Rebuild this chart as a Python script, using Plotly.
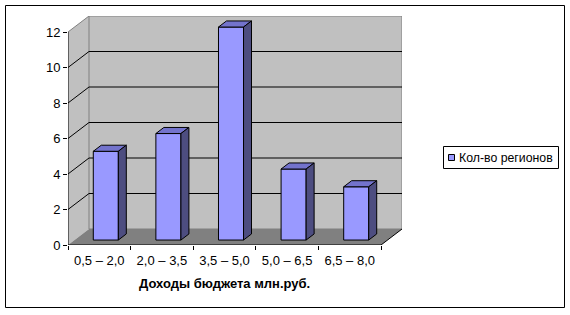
import plotly.graph_objects as go

categories = ["0,5 – 2,0", "2,0 – 3,5", "3,5 – 5,0", "5,0 – 6,5", "6,5 – 8,0"]
values = [5, 6, 12, 4, 3]
series_name = "Кол-во регионов"
x_title = "Доходы бюджета млн.руб."
y_ticks = [0, 2, 4, 6, 8, 10, 12]

# geometry (pixels -> axis units)
PX_X = 62.6   # px per category
PX_Y = 17.75  # px per value unit
DX = 21 / PX_X   # depth offset in category units
DY = 16 / PX_Y   # depth offset in value units
YMAX = 12
F0, F1 = 0.31, 0.69  # bar depth fractions
HALF = 0.2

L, B = 68, 70
W, H = 570, 315
plot_w = (5 + DX) * PX_X
plot_h = (YMAX + DY) * PX_Y
T = H - B - plot_h
R = W - L - plot_w

FRONT = "#9999FF"
TOP = "#7373CC"
SIDE = "#4D4D80"
WALL = "#C0C0C0"
FLOOR = "#808080"
EDGE = "#808080"

n = len(categories)
x0, x1 = -0.5, n - 0.5

fig = go.Figure()

# front faces of bars
bx = [i + F0 * DX for i in range(n)]
base = F0 * DY
fig.add_trace(go.Bar(x=bx, y=values, base=[base] * n, width=2 * HALF,
                     marker=dict(color=FRONT, line=dict(color="black", width=1)),
                     showlegend=False, hoverinfo="skip", xaxis="x", yaxis="y"))

ddx, ddy = (F1 - F0) * DX, (F1 - F0) * DY
for cx, v in zip(bx, values):
    top = base + v
    # top face
    fig.add_trace(go.Scatter(
        x=[cx - HALF, cx + HALF, cx + HALF + ddx, cx - HALF + ddx, cx - HALF],
        y=[top, top, top + ddy, top + ddy, top],
        mode="lines", fill="toself", fillcolor=TOP,
        line=dict(color="black", width=1), showlegend=False, hoverinfo="skip"))
    # side face
    fig.add_trace(go.Scatter(
        x=[cx + HALF, cx + HALF, cx + HALF + ddx, cx + HALF + ddx, cx + HALF],
        y=[base, top, top + ddy, base + ddy, base],
        mode="lines", fill="toself", fillcolor=SIDE,
        line=dict(color="black", width=1), showlegend=False, hoverinfo="skip"))

# invisible trace for the label axis
fig.add_trace(go.Scatter(x=[0], y=[0], xaxis="x2", yaxis="y", mode="markers",
                         marker=dict(opacity=0), showlegend=False, hoverinfo="skip"))

shapes = []
# left side wall
shapes.append(dict(type="path", xref="x", yref="y", layer="below",
                   path=f"M{x0},0 L{x0},{YMAX} L{x0+DX},{YMAX+DY} L{x0+DX},{DY} Z",
                   fillcolor=WALL, line=dict(width=0)))
# back wall
shapes.append(dict(type="rect", xref="x", yref="y", layer="below",
                   x0=x0 + DX, x1=x1 + DX, y0=DY, y1=YMAX + DY,
                   fillcolor=WALL, line=dict(color=EDGE, width=1)))
# floor
shapes.append(dict(type="path", xref="x", yref="y", layer="below",
                   path=f"M{x0},0 L{x1},0 L{x1+DX},{DY} L{x0+DX},{DY} Z",
                   fillcolor=FLOOR, line=dict(width=0)))
# gridlines
for v in y_ticks[1:-1]:
    shapes.append(dict(type="line", xref="x", yref="y", layer="below",
                       x0=x0, y0=v, x1=x0 + DX, y1=v + DY, line=dict(color="black", width=1)))
    shapes.append(dict(type="line", xref="x", yref="y", layer="below",
                       x0=x0 + DX, y0=v + DY, x1=x1 + DX, y1=v + DY, line=dict(color="black", width=1)))
# wall top edge on left
shapes.append(dict(type="line", xref="x", yref="y", layer="below",
                   x0=x0, y0=YMAX, x1=x0 + DX, y1=YMAX + DY, line=dict(color=EDGE, width=1)))
# floor right edge
shapes.append(dict(type="line", xref="x", yref="y", layer="below",
                   x0=x1, y0=0, x1=x1 + DX, y1=DY, line=dict(color="black", width=1)))
# axis lines
shapes.append(dict(type="line", xref="x", yref="y", layer="below",
                   x0=x0, y0=0, x1=x0, y1=YMAX, line=dict(color="black", width=1)))
shapes.append(dict(type="line", xref="x", yref="y", layer="below",
                   x0=x0, y0=0, x1=x1, y1=0, line=dict(color="black", width=1)))

def px2paper_x(px):
    return (px - L) / plot_w

def px2paper_y(py):
    return (H - B - py) / plot_h

# outer border
shapes.append(dict(type="rect", xref="paper", yref="paper",
                   x0=px2paper_x(5.5), x1=px2paper_x(564.5),
                   y0=px2paper_y(307.5), y1=px2paper_y(5.5),
                   line=dict(color="black", width=1), fillcolor="rgba(0,0,0,0)"))
# legend box
shapes.append(dict(type="rect", xref="paper", yref="paper",
                   x0=px2paper_x(443.5), x1=px2paper_x(558.5),
                   y0=px2paper_y(168.5), y1=px2paper_y(146.5),
                   line=dict(color="black", width=1), fillcolor="white"))
# legend swatch
shapes.append(dict(type="rect", xref="paper", yref="paper",
                   x0=px2paper_x(448.5), x1=px2paper_x(454.5),
                   y0=px2paper_y(160.5), y1=px2paper_y(154.5),
                   line=dict(color="black", width=1), fillcolor=FRONT))

font = dict(family="Liberation Sans, Arial", size=13, color="black")
legend_font = dict(family="Liberation Sans, Arial", size=12.3, color="black")
annotations = [
    dict(text=series_name, xref="paper", yref="paper",
         x=px2paper_x(456.5), y=px2paper_y(157.5), xanchor="left", yanchor="middle",
         showarrow=False, font=legend_font),
    dict(text=f"<b>{x_title}</b>", xref="x", yref="paper",
         x=(n - 1) / 2, y=px2paper_y(283), xanchor="center", yanchor="middle",
         showarrow=False, font=font),
]

fig.update_layout(
    width=W, height=H,
    margin=dict(l=L, r=R, t=T, b=B, autoexpand=False),
    paper_bgcolor="white", plot_bgcolor="white",
    showlegend=False,
    shapes=shapes, annotations=annotations,
    font=font,
    xaxis=dict(range=[x0, x1 + DX], tickmode="array",
               tickvals=[i - 0.5 for i in range(n + 1)], ticktext=[""] * (n + 1),
               ticks="outside", ticklen=4, tickcolor="black", showgrid=False,
               zeroline=False, showline=False, fixedrange=True),
    xaxis2=dict(range=[x0, x1 + DX], overlaying="x", anchor="y", side="bottom",
                tickmode="array", tickvals=list(range(n)), ticktext=categories,
                ticks="", showgrid=False, zeroline=False, showline=False,
                tickfont=font, fixedrange=True, ticklabelstandoff=6),
    yaxis=dict(range=[0, YMAX + DY], tickmode="array", tickvals=y_ticks,
               ticktext=[str(v) for v in y_ticks], ticks="outside", ticklen=4,
               tickcolor="black", showgrid=False, zeroline=False, showline=False,
               tickfont=font, fixedrange=True),
)

fig.write_html("out.html")
